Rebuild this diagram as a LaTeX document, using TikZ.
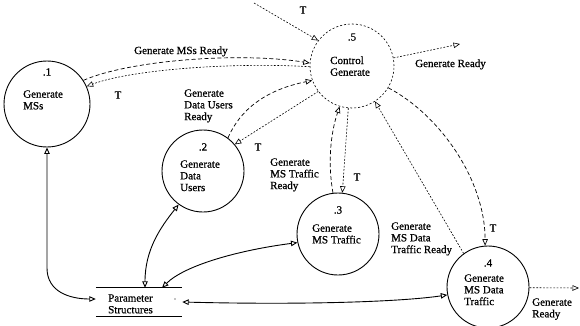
\documentclass[tikz,border=0pt]{standalone}
\usepackage{fontspec}
\setmainfont{Liberation Serif}[RawFeature={embolden=0.7}]
\usetikzlibrary{arrows.meta}
\begin{document}
\begin{tikzpicture}[x=1pt,y=-1pt,
  bubble/.style={circle, draw, line width=0.9pt, inner sep=0, minimum size=#1},
  cbubble/.style={bubble=#1, dash pattern=on 2pt off 2pt, line width=0.6pt},
  lbl/.style={inner sep=0, align=left, anchor=north west, font=\fontsize{11}{11.7}\selectfont},
  num/.style={inner sep=0, font=\fontsize{11}{11.7}\selectfont},
  ctrl/.style={line width=0.7pt, dash pattern=on 4pt off 2.5pt, -{Triangle[open,length=6.5pt,width=5.5pt]}},
  sig/.style={line width=0.6pt, dash pattern=on 1.8pt off 1.6pt, -{Triangle[open,length=6.5pt,width=5.5pt]}},
  data/.style={line width=0.9pt, {Triangle[open,length=6.5pt,width=5.5pt]}-{Triangle[open,length=6.5pt,width=5.5pt]}}
]
\useasboundingbox (0,0) rectangle (580,326);

% process bubbles
\node[bubble=86pt]  (c1) at (47,104) {};
\node[bubble=82pt]  (c2) at (203,171) {};
\node[bubble=82pt]  (c3) at (338,234) {};
\node[bubble=82pt]  (c4) at (488,287) {};
\node[cbubble=84pt] (c5) at (352,66) {};

% store
\node[inner sep=0, minimum width=86pt, minimum height=28pt] (ps) at (139,302) {};
\draw[line width=0.9pt] (ps.north west) -- (ps.north east) (ps.south west) -- (ps.south east);
\node[lbl] (pstext) at (108,294.2) {Parameter\\Structures};
\fill (175,299) circle (0.7);

% bubble numbers and names
\node[num] (n1) at (47,72) {.1};
\node[lbl] (l1) at (23,90.2) {Generate\\MSs};
\node[num] (n2) at (203,147) {.2};
\node[lbl] (l2) at (180,160.2) {Generate\\Data\\Users};
\node[num] (n3) at (338,210) {.3};
\node[lbl] (l3) at (312,224.2) {Generate\\MS Traffic};
\node[num] (n4) at (488,263) {.4};
\node[lbl] (l4) at (464,274.2) {Generate\\MS Data\\Traffic};
\node[num] (n5) at (352,37) {.5};
\node[lbl] (l5) at (330,56.2) {Control\\Generate};

% flow labels
\node[lbl] (f1) at (134,46.2) {Generate MSs Ready};
\node[lbl] (f2) at (184,89.2) {Generate\\Data Users\\Ready};
\node[lbl] (f3) at (270,158.2) {Generate\\MS Traffic\\Ready};
\node[lbl] (f4) at (391,222.2) {Generate\\MS Data\\Traffic Ready};
\node[lbl] (f5) at (415,59.2) {Generate Ready};
\node[lbl] (f6) at (532,298.2) {Generate\\Ready};
\node[num] (t0) at (303,10) {T};
\node[num] (t1) at (118,95) {T};
\node[num] (t2) at (258,147) {T};
\node[num] (t3) at (357,177) {T};
\node[num] (t4) at (493,228) {T};

% free ends
\coordinate (tin) at (254,3);
\coordinate (gr1) at (460,44);
\coordinate (gr2) at (579,288);

% control flows
\draw[sig]  (tin) -- (c5.143);
\draw[ctrl] (c1.33) .. controls (130,60) and (240,52) .. (c5.176);
\draw[sig]  (c5.181) .. controls (230,62) and (130,70) .. (c1.24);
\draw[ctrl] (c2.53) .. controls (240,110) and (265,90) .. (c5.200);
\draw[sig]  (c5.217) -- (c2.40);
\draw[ctrl] (c3.97) .. controls (328,165) and (330,135) .. (c5.253);
\draw[sig]  (c5.265) -- (c3.84);
\draw[sig]  (c4.126) -- (c5.303);
\draw[ctrl] (c5.329) .. controls (440,115) and (485,180) .. (c4.94);
\draw[sig]  (c5.11) -- (gr1);
\draw[sig]  (c4.-1) -- (gr2);

% data flows to and from the store
\draw[data] (c1.south) -- (47,268) .. controls (47,292) and (70,299) .. ([yshift=3pt]ps.west);
\draw[data] ([xshift=6pt]ps.north) .. controls (145,250) and (160,228) .. (c2.234);
\draw[data] ([xshift=23pt]ps.north) .. controls (185,265) and (240,250) .. (c3.192);
\draw[data] (ps.east) .. controls (300,305) and (400,302) .. (c4.191);
\end{tikzpicture}
\end{document}
